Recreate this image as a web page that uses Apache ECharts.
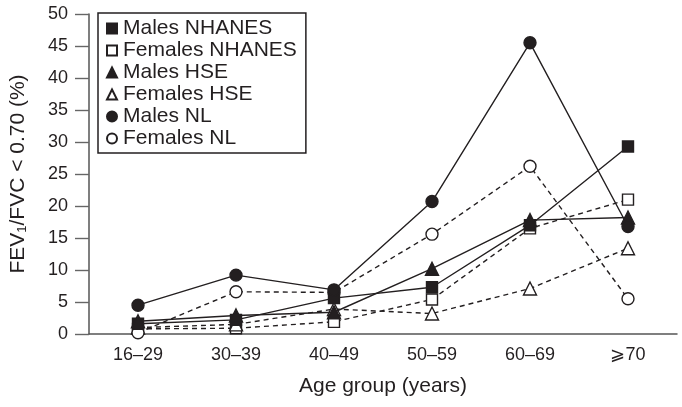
<!DOCTYPE html>
<html><head><meta charset="utf-8">
<script src="https://cdn.jsdelivr.net/npm/echarts@6/dist/echarts.min.js"></script>
<style>html,body{margin:0;padding:0;background:#fff}#c{width:682px;height:407px}</style>
</head><body><div id="c"></div>
<script>
const categories = ['16–29','30–39','40–49','50–59','60–69','⩾70'];
const malesNHANES   = [1.6, 2.2, 5.6, 7.3, 17.0, 29.3];
const femalesNHANES = [0.8, 0.9, 1.9, 5.4, 16.5, 21.0];
const malesHSE      = [2.0, 2.9, 3.4, 10.2, 17.8, 18.2];
const femalesHSE    = [1.0, 1.5, 3.9, 3.2, 7.1, 13.4];
const malesNL       = [4.5, 9.2, 6.9, 20.7, 45.5, 16.8];
const femalesNL     = [0.2, 6.6, 6.5, 15.6, 26.2, 5.5];
const yTicks = [0,5,10,15,20,25,30,35,40,45,50];

const ink = '#231f20';
const FONT = 'Liberation Sans, Arial, Helvetica, sans-serif';
function mk(name, data, symbol, filled, dashed, size) {
  return {
    name, type: 'line', data, symbol, symbolSize: size,
    showAllSymbol: true,
    lineStyle: {color: ink, width: 1.4, type: dashed ? [5,4] : 'solid'},
    itemStyle: {color: filled ? ink : '#fff', borderColor: ink, borderWidth: 1.4, opacity: 1},
    emphasis: {disabled: true},
    z: filled ? 3 : 2
  };
}
const series = [
  mk('Males NHANES', malesNHANES, 'rect', true, false, 11),
  mk('Females NHANES', femalesNHANES, 'rect', false, true, 11),
  mk('Males HSE', malesHSE, 'triangle', true, false, 13),
  mk('Females HSE', femalesHSE, 'triangle', false, true, 13),
  mk('Males NL', malesNL, 'circle', true, false, 12),
  mk('Females NL', femalesNL, 'circle', false, true, 12)
];
const chart = echarts.init(document.getElementById('c'), null, {renderer: 'canvas'});
chart.setOption({
  animation: false,
  backgroundColor: '#fff',
  textStyle: {fontFamily: FONT, color: ink},
  grid: {left: 87, right: 5, top: 14, bottom: 73},
  legend: {
    orient: 'vertical', left: 98, top: 13,
    data: series.map(s => ({name: s.name, icon: s.symbol})),
    itemWidth: 10, itemHeight: 10, itemGap: 1,
    padding: [5, 9, 4, 8],
    borderColor: ink, borderWidth: 1.5, borderRadius: 0,
    textStyle: {fontFamily: FONT, fontSize: 21, lineHeight: 19, color: ink, padding: [0,0,0,1]},
    selectedMode: false
  },
  xAxis: {
    type: 'category', data: categories, boundaryGap: true,
    name: 'Age group (years)', nameLocation: 'middle', nameGap: 42,
    nameTextStyle: {fontFamily: FONT, fontSize: 21, color: ink},
    axisLine: {lineStyle: {color: '#555', width: 1.5}},
    axisTick: {length: 9, lineStyle: {color: '#444', width: 1.4}, alignWithLabel: false},
    axisLabel: {fontFamily: FONT, fontSize: 18, color: ink, margin: 12}
  },
  yAxis: {
    type: 'value', min: 0, max: 50, interval: 5,
    name: '{a|FEV}{s|1}{a|/FVC < 0.70 (%)}', nameLocation: 'middle', nameGap: 60,
    nameTextStyle: {fontFamily: FONT, fontSize: 21, color: ink,
      rich: {a: {fontFamily: FONT, fontSize: 21, color: ink}, s: {fontFamily: FONT, fontSize: 13, color: ink, padding: [8,0,0,0]}}},
    axisLine: {show: true, lineStyle: {color: '#555', width: 1.5}},
    axisTick: {show: true, inside: false, length: 14, lineStyle: {color: '#666', width: 1.4}},
    splitLine: {show: false},
    axisLabel: {fontFamily: FONT, fontSize: 18, color: ink, margin: 21,
      formatter: v => yTicks.includes(v) ? String(v) : ''}
  },
  series
});
</script></body></html>
